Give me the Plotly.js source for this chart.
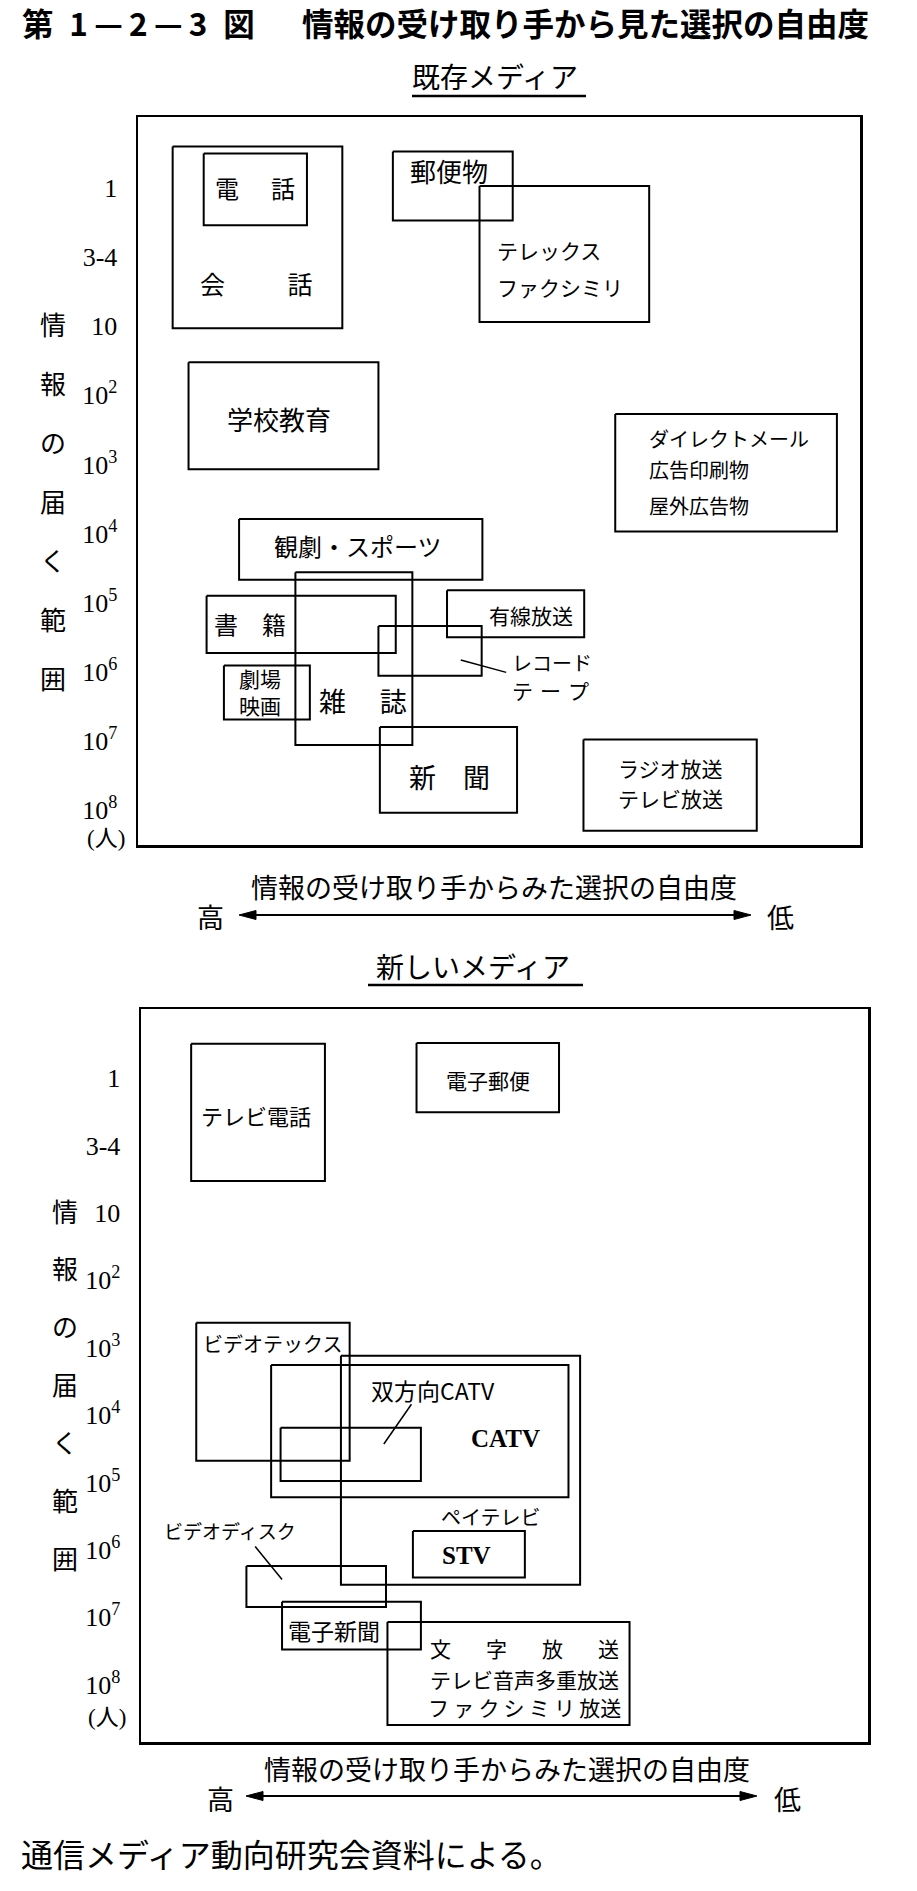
<!DOCTYPE html>
<html>
<head>
<meta charset="utf-8">
<script src="https://cdn.plot.ly/plotly-3.0.1.min.js"></script>
<style>html,body{margin:0;padding:0;background:#fff;}#chart{width:917px;height:1891px;}</style>
</head>
<body>
<div id="chart"></div>
<script>
// ---------- data ----------
const chartTitle = '第\u20021\u2009—\u20092\u2009—\u20093\u2002図\u3000\u2002情報の受け取り手から見た選択の自由度';
const panelTitles = ['既存メディア', '新しいメディア'];
const yTitle = '情報の届く範囲';
const xTitle = '情報の受け取り手からみた選択の自由度';
const xHigh = '高', xLow = '低';
const yUnit = '(人)';
const source = '通信メディア動向研究会資料による。';

// reach levels: 0 = 1人, 1 = 3-4人, 2 = 10人 ... 9 = 10^8人
const yTickVals = [0, 1, 2, 3, 4, 5, 6, 7, 8, 9];
const yTickText = ['1', '3-4', '10', '10<sup>2</sup>', '10<sup>3</sup>', '10<sup>4</sup>',
                   '10<sup>5</sup>', '10<sup>6</sup>', '10<sup>7</sup>', '10<sup>8</sup>'];

// existing media: boxes (x = freedom of choice 0..100, high -> low; y = reach level)
const topNames = ['会話', '電話', '郵便物', 'テレックス・ファクシミリ', '学校教育', 'ダイレクトメール・広告印刷物・屋外広告物',
                  '観劇・スポーツ', '雑誌', '書籍', '有線放送', 'レコード・テープ', '劇場映画', '新聞', 'ラジオ放送・テレビ放送'];
const topX0 = [4.8, 9.1, 35.3, 47.3, 7.0, 66.1, 14.0, 21.8, 9.5, 42.8, 33.3, 11.9, 33.5, 61.7];
const topX1 = [28.3, 23.4, 51.9, 70.8, 33.3, 96.8, 47.7, 38.0, 35.7, 61.8, 47.6, 23.8, 52.5, 85.7];
const topY0 = [-0.60, -0.50, -0.53, -0.03, 2.52, 3.27, 4.79, 5.56, 5.90, 5.82, 6.34, 6.91, 7.80, 7.98];
const topY1 = [2.03, 0.54, 0.47, 1.94, 4.07, 4.97, 5.67, 8.06, 6.73, 6.50, 7.06, 7.69, 9.04, 9.30];

const topLabels = ['電\u2003\u2004話', '会\u2003\u2003\u2002話', '郵便物', 'テレックス', 'ファクシミリ', '学校教育',
                   'ダイレクトメール', '広告印刷物', '屋外広告物', '観劇・スポーツ', '書\u3000籍', '有線放送',
                   'レコード', 'テ\u2004ー\u2004プ', '劇場<br>映画', '雑\u2003\u2005誌', '新\u3000聞', 'ラジオ放送', 'テレビ放送'];
const topLabelX = [16.2, 16.4, 43.1, 49.4, 49.4, 19.5, 70.5, 70.5, 70.5, 30.5, 15.5, 54.4, 51.5, 51.5, 16.9, 31.2, 43.1, 73.7, 73.7];
const topLabelY = [0.00, 1.38, -0.26, 0.90, 1.43, 3.33, 3.62, 4.08, 4.59, 5.17, 6.30, 6.18, 6.87, 7.26, 7.29, 7.41, 8.52, 8.40, 8.83];
const topLeaderX = [44.7, 51.0];
const topLeaderY = [6.83, 7.01];

// new media
const botNames = ['テレビ電話', '電子郵便', 'ビデオテックス', 'ペイテレビ', 'CATV', '双方向CATV', 'STV',
                  'ビデオディスク', '電子新聞', '文字放送・テレビ音声多重放送・ファクシミリ放送'];
const botX0 = [6.9, 37.9, 7.6, 27.5, 17.9, 19.2, 37.4, 14.5, 19.4, 33.9];
const botX1 = [25.3, 57.5, 28.7, 60.4, 58.8, 38.5, 52.8, 33.7, 38.5, 67.2];
const botY0 = [-0.51, -0.52, 3.63, 4.12, 4.26, 5.19, 6.72, 7.24, 7.77, 8.07];
const botY1 = [1.53, 0.51, 5.68, 7.52, 6.22, 5.98, 7.41, 7.85, 8.48, 9.60];

const botLabels = ['テレビ電話', '電子郵便', 'ビデオテックス', '双方向CATV', 'CATV', 'ペイテレビ', 'STV',
                   'ビデオディスク', '電子新聞', '文\u2003\u2002\u2006字\u2003\u2002\u2006放\u2003\u2002\u2006送',
                   'テレビ音声多重放送', 'フ\u2009ァ\u2009ク\u2009シ\u2009ミ\u2009リ\u2009放送'];
const botLabelX = [15.8, 47.7, 8.3, 40.2, 50.2, 48.2, 44.8, 12.2, 26.5, 52.8, 52.8, 52.8];
const botLabelY = [0.55, 0.03, 3.94, 4.63, 5.35, 6.51, 7.08, 6.71, 8.19, 8.46, 8.91, 9.33];
const botLeaderX = [[37.2, 33.4], [15.7, 19.4]];
const botLeaderY = [[4.84, 5.43], [6.95, 7.44]];

// ---------- layout helpers ----------
const W = 917, H = 1891;
const px = x => x / W;
const py = y => 1 - y / H;
const JP = 'Noto Sans CJK JP, sans-serif';
const SERIF = 'Liberation Serif, serif';

// panel frames in pixels
const topFrame = {l: 138, r: 860, t: 117, b: 845, y0px: 188, step: 69.1};
const botFrame = {l: 141, r: 868, t: 1009, b: 1742, y0px: 1078, step: 67.4};
const lvl = (f, ypx) => (ypx - f.y0px) / f.step;

const traces = [];
function addBoxes(x0, x1, y0, y1, names, xa, ya) {
  for (let i = 0; i < x0.length; i++) {
    traces.push({
      type: 'scatter', mode: 'lines', name: names[i],
      x: [x0[i], x1[i], x1[i], x0[i], x0[i]],
      y: [y0[i], y0[i], y1[i], y1[i], y0[i]],
      xaxis: xa, yaxis: ya,
      line: {color: '#000', width: 2}, hoverinfo: 'skip', showlegend: false
    });
  }
}
function addLeader(xs, ys, xa, ya) {
  traces.push({type: 'scatter', mode: 'lines', x: xs, y: ys, xaxis: xa, yaxis: ya,
    line: {color: '#000', width: 1.5}, hoverinfo: 'skip', showlegend: false});
}
addBoxes(topX0, topX1, topY0, topY1, topNames, 'x', 'y');
addLeader(topLeaderX, topLeaderY, 'x', 'y');
addBoxes(botX0, botX1, botY0, botY1, botNames, 'x2', 'y2');
botLeaderX.forEach((xs, i) => addLeader(xs, botLeaderY[i], 'x2', 'y2'));

const annotations = [];
const leftAligned = new Set(['テレックス', 'ファクシミリ', 'ダイレクトメール', '広告印刷物', '屋外広告物', 'レコード', 'テ\u2004ー\u2004プ', 'ビデオテックス']);
const topSizes = [24, 25, 26, 21, 21, 26, 20, 20, 20, 24, 24, 21, 20, 21, 21, 27, 27, 21, 21];
topLabels.forEach((t, i) => annotations.push({
  text: t, x: topLabelX[i], y: topLabelY[i], xref: 'x', yref: 'y', showarrow: false,
  xanchor: leftAligned.has(t) ? 'left' : 'center', yanchor: 'middle',
  font: {family: JP, size: topSizes[i], color: '#000'}
}));
const botSizes = [22, 21, 20, 23, 25, 20, 25, 19, 23, 21, 21, 21];
botLabels.forEach((t, i) => {
  const latin = (t === 'CATV' || t === 'STV');
  annotations.push({
    text: t, x: botLabelX[i], y: botLabelY[i], xref: 'x2', yref: 'y2', showarrow: false,
    xanchor: leftAligned.has(t) ? 'left' : 'center', yanchor: 'middle',
    font: {family: latin ? SERIF : JP, size: botSizes[i], color: '#000', weight: latin ? 700 : 400}
  });
});

// vertical y-axis titles (one character per row)
function addYTitle(xpx, y1, y2) {
  const chars = Array.from(yTitle);
  chars.forEach((c, i) => annotations.push({
    text: c, x: px(xpx), y: py(y1 + (y2 - y1) * i / (chars.length - 1)), xref: 'paper', yref: 'paper',
    showarrow: false, xanchor: 'center', yanchor: 'middle', font: {family: JP, size: 26, color: '#000'}
  }));
}
addYTitle(53, 323, 678);
addYTitle(65, 1210, 1557);

// units
annotations.push({text: yUnit, x: px(106), y: py(838), xref: 'paper', yref: 'paper', showarrow: false,
  xanchor: 'center', yanchor: 'middle', font: {family: SERIF + ', ' + JP, size: 23, color: '#000'}});
annotations.push({text: yUnit, x: px(107), y: py(1717), xref: 'paper', yref: 'paper', showarrow: false,
  xanchor: 'center', yanchor: 'middle', font: {family: SERIF + ', ' + JP, size: 23, color: '#000'}});

// panel subtitles
annotations.push({text: panelTitles[0], x: px(495), y: py(76), xref: 'paper', yref: 'paper', showarrow: false,
  xanchor: 'center', yanchor: 'middle', font: {family: JP, size: 28, color: '#000'}});
annotations.push({text: panelTitles[1], x: px(473), y: py(966), xref: 'paper', yref: 'paper', showarrow: false,
  xanchor: 'center', yanchor: 'middle', font: {family: JP, size: 28, color: '#000'}});

const shapes = [
  {type: 'line', xref: 'paper', yref: 'paper', x0: px(412), x1: px(586), y0: py(96), y1: py(96), line: {color: '#000', width: 2.5}},
  {type: 'line', xref: 'paper', yref: 'paper', x0: px(368), x1: px(583), y0: py(985), y1: py(985), line: {color: '#000', width: 2.5}}
];

// x-axis titles and double-headed arrows
function addXTitle(cx, ty, ay, hx, lx, a0, a1) {
  annotations.push({text: xTitle, x: px(cx), y: py(ty), xref: 'paper', yref: 'paper', showarrow: false,
    xanchor: 'center', yanchor: 'middle', font: {family: JP, size: 27, color: '#000'}});
  annotations.push({text: xHigh, x: px(hx), y: py(ay + 2), xref: 'paper', yref: 'paper', showarrow: false,
    xanchor: 'center', yanchor: 'middle', font: {family: JP, size: 27, color: '#000'}});
  annotations.push({text: xLow, x: px(lx), y: py(ay + 2), xref: 'paper', yref: 'paper', showarrow: false,
    xanchor: 'center', yanchor: 'middle', font: {family: JP, size: 27, color: '#000'}});
  const hl = 17, hw = 4.5;
  shapes.push({type: 'line', xref: 'paper', yref: 'paper', x0: px(a0 + 6), x1: px(a1 - 6), y0: py(ay), y1: py(ay),
    line: {color: '#000', width: 2.2}});
  shapes.push({type: 'path', xref: 'paper', yref: 'paper', fillcolor: '#000', line: {color: '#000', width: 1},
    path: `M ${px(a0)} ${py(ay)} L ${px(a0 + hl)} ${py(ay - hw)} L ${px(a0 + hl)} ${py(ay + hw)} Z`});
  shapes.push({type: 'path', xref: 'paper', yref: 'paper', fillcolor: '#000', line: {color: '#000', width: 1},
    path: `M ${px(a1)} ${py(ay)} L ${px(a1 - hl)} ${py(ay - hw)} L ${px(a1 - hl)} ${py(ay + hw)} Z`});
}
addXTitle(494, 887, 915, 210, 780, 239, 751);
addXTitle(507, 1768, 1796, 220, 787, 246, 757);

// source note
annotations.push({text: source, x: px(19), y: py(1853), xref: 'paper', yref: 'paper', showarrow: false,
  xanchor: 'left', yanchor: 'middle', font: {family: JP, size: 32, color: '#000'}});

function xAxis(f, anchor) {
  return {domain: [px(f.l), px(f.r)], range: [0, 100], anchor: anchor, showline: true, mirror: true,
    linecolor: '#000', linewidth: 2.5, showgrid: false, zeroline: false, showticklabels: false, ticks: '', fixedrange: true};
}
function yAxis(f, anchor) {
  return {domain: [py(f.b), py(f.t)], range: [lvl(f, f.b), lvl(f, f.t)], anchor: anchor,
    tickmode: 'array', tickvals: yTickVals, ticktext: yTickText, ticks: '', ticklabelstandoff: 13,
    tickfont: {family: SERIF, size: 26, color: '#000'},
    showline: true, mirror: true, linecolor: '#000', linewidth: 2.5, showgrid: false, zeroline: false, fixedrange: true};
}

const layout = {
  width: W, height: H, autosize: false,
  margin: {l: 0, r: 0, t: 0, b: 0, pad: 0},
  paper_bgcolor: '#fff', plot_bgcolor: 'rgba(0,0,0,0)',
  title: {text: chartTitle, x: px(22), xanchor: 'left', xref: 'paper', y: py(25), yanchor: 'middle', yref: 'paper',
    font: {family: JP, size: 31.5, color: '#000', weight: 700}},
  xaxis: xAxis(topFrame, 'y'),
  yaxis: yAxis(topFrame, 'x'),
  xaxis2: xAxis(botFrame, 'y2'),
  yaxis2: yAxis(botFrame, 'x2'),
  annotations: annotations,
  shapes: shapes,
  showlegend: false
};

Plotly.newPlot('chart', traces, layout, {staticPlot: true, displayModeBar: false});
</script>
</body>
</html>
